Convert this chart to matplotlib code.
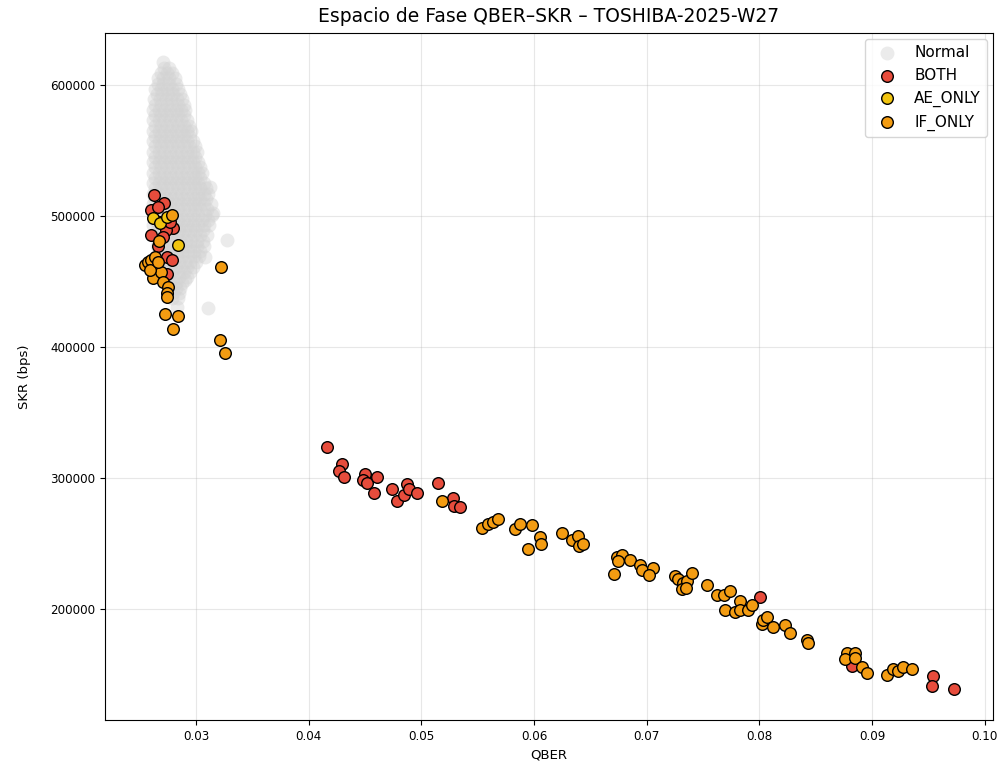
import numpy as np
import matplotlib
matplotlib.use("Agg")
import matplotlib.pyplot as plt

# --- Normal cluster (SKR level -> QBER values)
normal_row_skr = [613000, 605000, 597000, 589000, 581000, 573000, 565000, 557000,
                  549000, 541000, 533000, 525000, 517000, 509000, 501000, 493000,
                  485000, 477000, 469000, 461000, 453000, 445000, 437000]
normal_row_qber = [
    [0.0272, 0.0276],
    [0.0266, 0.0271, 0.0276, 0.0281],
    [0.0264, 0.0269, 0.0274, 0.0279, 0.0284],
    [0.0263, 0.0268, 0.0273, 0.0278, 0.0283, 0.0288],
    [0.0262, 0.0267, 0.0272, 0.0277, 0.0282, 0.0287, 0.0290],
    [0.0262, 0.0267, 0.0272, 0.0277, 0.0282, 0.0287, 0.0292],
    [0.0262, 0.0267, 0.0272, 0.0277, 0.0282, 0.0287, 0.0292, 0.0296],
    [0.0262, 0.0267, 0.0272, 0.0277, 0.0282, 0.0287, 0.0292, 0.0297],
    [0.0262, 0.0267, 0.0272, 0.0277, 0.0282, 0.0287, 0.0292, 0.0297, 0.0301],
    [0.0262, 0.0267, 0.0272, 0.0277, 0.0282, 0.0287, 0.0292, 0.0297, 0.0302],
    [0.0262, 0.0267, 0.0272, 0.0277, 0.0282, 0.0287, 0.0292, 0.0297, 0.0302, 0.0305],
    [0.0262, 0.0267, 0.0272, 0.0277, 0.0282, 0.0287, 0.0292, 0.0297, 0.0302, 0.0307],
    [0.0262, 0.0267, 0.0272, 0.0277, 0.0282, 0.0287, 0.0292, 0.0297, 0.0302, 0.0307, 0.0311],
    [0.0262, 0.0267, 0.0272, 0.0277, 0.0282, 0.0287, 0.0292, 0.0297, 0.0302, 0.0307, 0.0313],
    [0.0262, 0.0267, 0.0272, 0.0277, 0.0282, 0.0287, 0.0292, 0.0297, 0.0302, 0.0308, 0.0314],
    [0.0262, 0.0267, 0.0272, 0.0277, 0.0282, 0.0287, 0.0292, 0.0297, 0.0302, 0.0307, 0.0312],
    [0.0263, 0.0268, 0.0273, 0.0278, 0.0283, 0.0288, 0.0293, 0.0298, 0.0304, 0.0310],
    [0.0265, 0.0270, 0.0275, 0.0280, 0.0285, 0.0290, 0.0295, 0.0301, 0.0307],
    [0.0268, 0.0273, 0.0278, 0.0283, 0.0288, 0.0293, 0.0298, 0.0303],
    [0.0272, 0.0277, 0.0282, 0.0287, 0.0292, 0.0297],
    [0.0275, 0.0280, 0.0285, 0.0292],
    [0.0277, 0.0282, 0.0286],
    [0.0279, 0.0284],
]
# staggered in-between rows, so the blob fills in
normal_mid_skr = [609000, 601000, 593000, 585000, 577000, 569000, 561000, 553000,
                  545000, 537000, 529000, 521000, 513000, 505000, 497000, 489000,
                  481000, 473000, 465000, 457000, 449000, 441000]
normal_mid_qber = [
    [0.0269, 0.0274, 0.0279],
    [0.0266, 0.0271, 0.0276, 0.0282],
    [0.0265, 0.0270, 0.0275, 0.0280, 0.0286],
    [0.0264, 0.0269, 0.0274, 0.0279, 0.0284, 0.0289],
    [0.0264, 0.0269, 0.0274, 0.0279, 0.0284, 0.0289],
    [0.0264, 0.0269, 0.0274, 0.0279, 0.0284, 0.0289, 0.0294],
    [0.0264, 0.0269, 0.0274, 0.0279, 0.0284, 0.0289, 0.0294],
    [0.0264, 0.0269, 0.0274, 0.0279, 0.0284, 0.0289, 0.0294, 0.0299],
    [0.0264, 0.0269, 0.0274, 0.0279, 0.0284, 0.0289, 0.0294, 0.0299],
    [0.0264, 0.0269, 0.0274, 0.0279, 0.0284, 0.0289, 0.0294, 0.0299, 0.0304],
    [0.0264, 0.0269, 0.0274, 0.0279, 0.0284, 0.0289, 0.0294, 0.0299, 0.0304],
    [0.0264, 0.0269, 0.0274, 0.0279, 0.0284, 0.0289, 0.0294, 0.0299, 0.0304, 0.0309],
    [0.0264, 0.0269, 0.0274, 0.0279, 0.0284, 0.0289, 0.0294, 0.0299, 0.0304, 0.0309],
    [0.0264, 0.0269, 0.0274, 0.0279, 0.0284, 0.0289, 0.0294, 0.0299, 0.0304, 0.0310],
    [0.0264, 0.0269, 0.0274, 0.0279, 0.0284, 0.0289, 0.0294, 0.0299, 0.0305, 0.0311],
    [0.0265, 0.0270, 0.0275, 0.0280, 0.0285, 0.0290, 0.0295, 0.0300, 0.0306],
    [0.0266, 0.0271, 0.0276, 0.0281, 0.0286, 0.0291, 0.0296, 0.0301, 0.0306],
    [0.0268, 0.0273, 0.0278, 0.0283, 0.0288, 0.0293, 0.0298, 0.0304],
    [0.0270, 0.0275, 0.0280, 0.0285, 0.0290, 0.0295, 0.0300],
    [0.0274, 0.0279, 0.0284, 0.0289, 0.0295],
    [0.0277, 0.0282, 0.0288],
    [0.0280, 0.0285],
]
normal_extra_qber = [0.03272, 0.03109, 0.03124, 0.0315, 0.0308, 0.0290, 0.0283, 0.0271]
normal_extra_skr = [481600, 429400, 522300, 502200, 468800, 451000, 430600, 617500]

# --- Anomalies
both_qber = [0.02627, 0.02720, 0.02605, 0.02598, 0.02796, 0.02734, 0.02705, 0.02665,
             0.02745, 0.02791, 0.02747, 0.02681, 0.02769, 0.02663,
             0.04165, 0.04293, 0.04269, 0.04316, 0.04500, 0.04479, 0.04515, 0.04603,
             0.04579, 0.04736, 0.04781, 0.04848, 0.04875, 0.04890, 0.04964, 0.05145,
             0.05284, 0.05289, 0.05343, 0.08004, 0.08818, 0.09542, 0.09528, 0.09729]
both_skr = [515600, 510100, 504100, 485400, 490400, 489200, 484100, 477000,
            468600, 466300, 455600, 495600, 495300, 506800,
            323700, 310200, 305300, 300300, 302800, 298200, 296200, 300300,
            288100, 291100, 282200, 286800, 294900, 291100, 288500, 296200,
            284200, 278400, 277400, 208600, 156100, 148700, 140800, 138300]

ae_qber = [0.02618, 0.02681, 0.02743, 0.02838]
ae_skr = [498000, 494600, 499500, 477800]

if_qber = [0.02787, 0.02673, 0.02547, 0.02574, 0.02598, 0.02636, 0.02621, 0.02689,
           0.02710, 0.02752, 0.02747, 0.02740, 0.02729, 0.02843, 0.02799, 0.03219,
           0.03213, 0.03257, 0.02592, 0.02663,
           0.05186, 0.05535, 0.05594, 0.05638, 0.05682, 0.05830, 0.05875, 0.05984,
           0.05943, 0.06052, 0.06059, 0.06245, 0.06334, 0.06392, 0.06401, 0.06437,
           0.06733, 0.06783, 0.06747, 0.06851, 0.06709, 0.06940, 0.06955, 0.07058,
           0.07022, 0.07250, 0.07280, 0.07318, 0.07360, 0.07398, 0.07310, 0.07348,
           0.07531, 0.07620, 0.07688, 0.07738, 0.07827, 0.07694, 0.07783, 0.07827,
           0.07901, 0.07931, 0.08020, 0.08034, 0.08064, 0.08123, 0.08226, 0.08271,
           0.08419, 0.08433, 0.08774, 0.08847, 0.08759, 0.08847, 0.08907, 0.08957,
           0.09134, 0.09187, 0.09232, 0.09276, 0.09350]
if_skr = [500700, 480800, 462500, 464800, 466300, 468600, 452200, 456800,
          449500, 445700, 441100, 438300, 425000, 423500, 413600, 461200,
          404800, 395500, 458700, 464800,
          282400, 261800, 264400, 265900, 268200, 260600, 264600, 263800,
          245300, 254900, 249300, 257500, 252400, 255400, 248000, 249100,
          239600, 240900, 236600, 237100, 226400, 233300, 229500, 230800,
          225600, 224900, 222400, 219300, 221300, 226900, 214700, 215500,
          218000, 210400, 210400, 213600, 206000, 198900, 197600, 198900,
          198900, 202700, 188200, 191300, 193800, 186100, 187400, 181100,
          176000, 173500, 166300, 165800, 161500, 162500, 155600, 150500,
          149300, 153800, 152300, 155600, 153600]

normal_qber = ([q for row in normal_row_qber for q in row]
               + [q for row in normal_mid_qber for q in row] + normal_extra_qber)
normal_skr = ([s for s, row in zip(normal_row_skr, normal_row_qber) for _ in row]
              + [s for s, row in zip(normal_mid_skr, normal_mid_qber) for _ in row]
              + normal_extra_skr)

fig = plt.figure(figsize=(10.05, 7.71), dpi=100)
ax = fig.add_axes([105 / 1005, 1 - 720 / 771, 888 / 1005, 687 / 771])

ax.scatter(normal_qber, normal_skr, s=100, color='lightgray', alpha=0.45,
           linewidths=0, label='Normal', zorder=2)
ax.scatter(both_qber, both_skr, s=70, color='#e74c3c', edgecolors='black',
           linewidths=1, label='BOTH', zorder=3)
ax.scatter(ae_qber, ae_skr, s=70, color='#f1c40f', edgecolors='black',
           linewidths=1, label='AE_ONLY', zorder=3)
ax.scatter(if_qber, if_skr, s=70, color='#f39c12', edgecolors='black',
           linewidths=1, label='IF_ONLY', zorder=3)

ax.set_xlim(0.02193, 0.10072)
ax.set_ylim(114860, 639700)
ax.set_xticks(np.arange(0.03, 0.1001, 0.01))
ax.set_yticks([200000, 300000, 400000, 500000, 600000])
ax.ticklabel_format(axis='y', style='plain', useOffset=False)
ax.tick_params(labelsize=8.6)
ax.grid(True, alpha=0.3, zorder=0)
ax.set_axisbelow(True)

ax.set_title("Espacio de Fase QBER–SKR – TOSHIBA-2025-W27", fontsize=13.5, pad=8)
ax.set_xlabel("QBER", fontsize=9.5)
ax.set_ylabel("SKR (bps)", fontsize=9.5, labelpad=14)
ax.legend(loc='upper right', fontsize=11, borderaxespad=0.4)

fig.savefig("out.png", dpi=100)
